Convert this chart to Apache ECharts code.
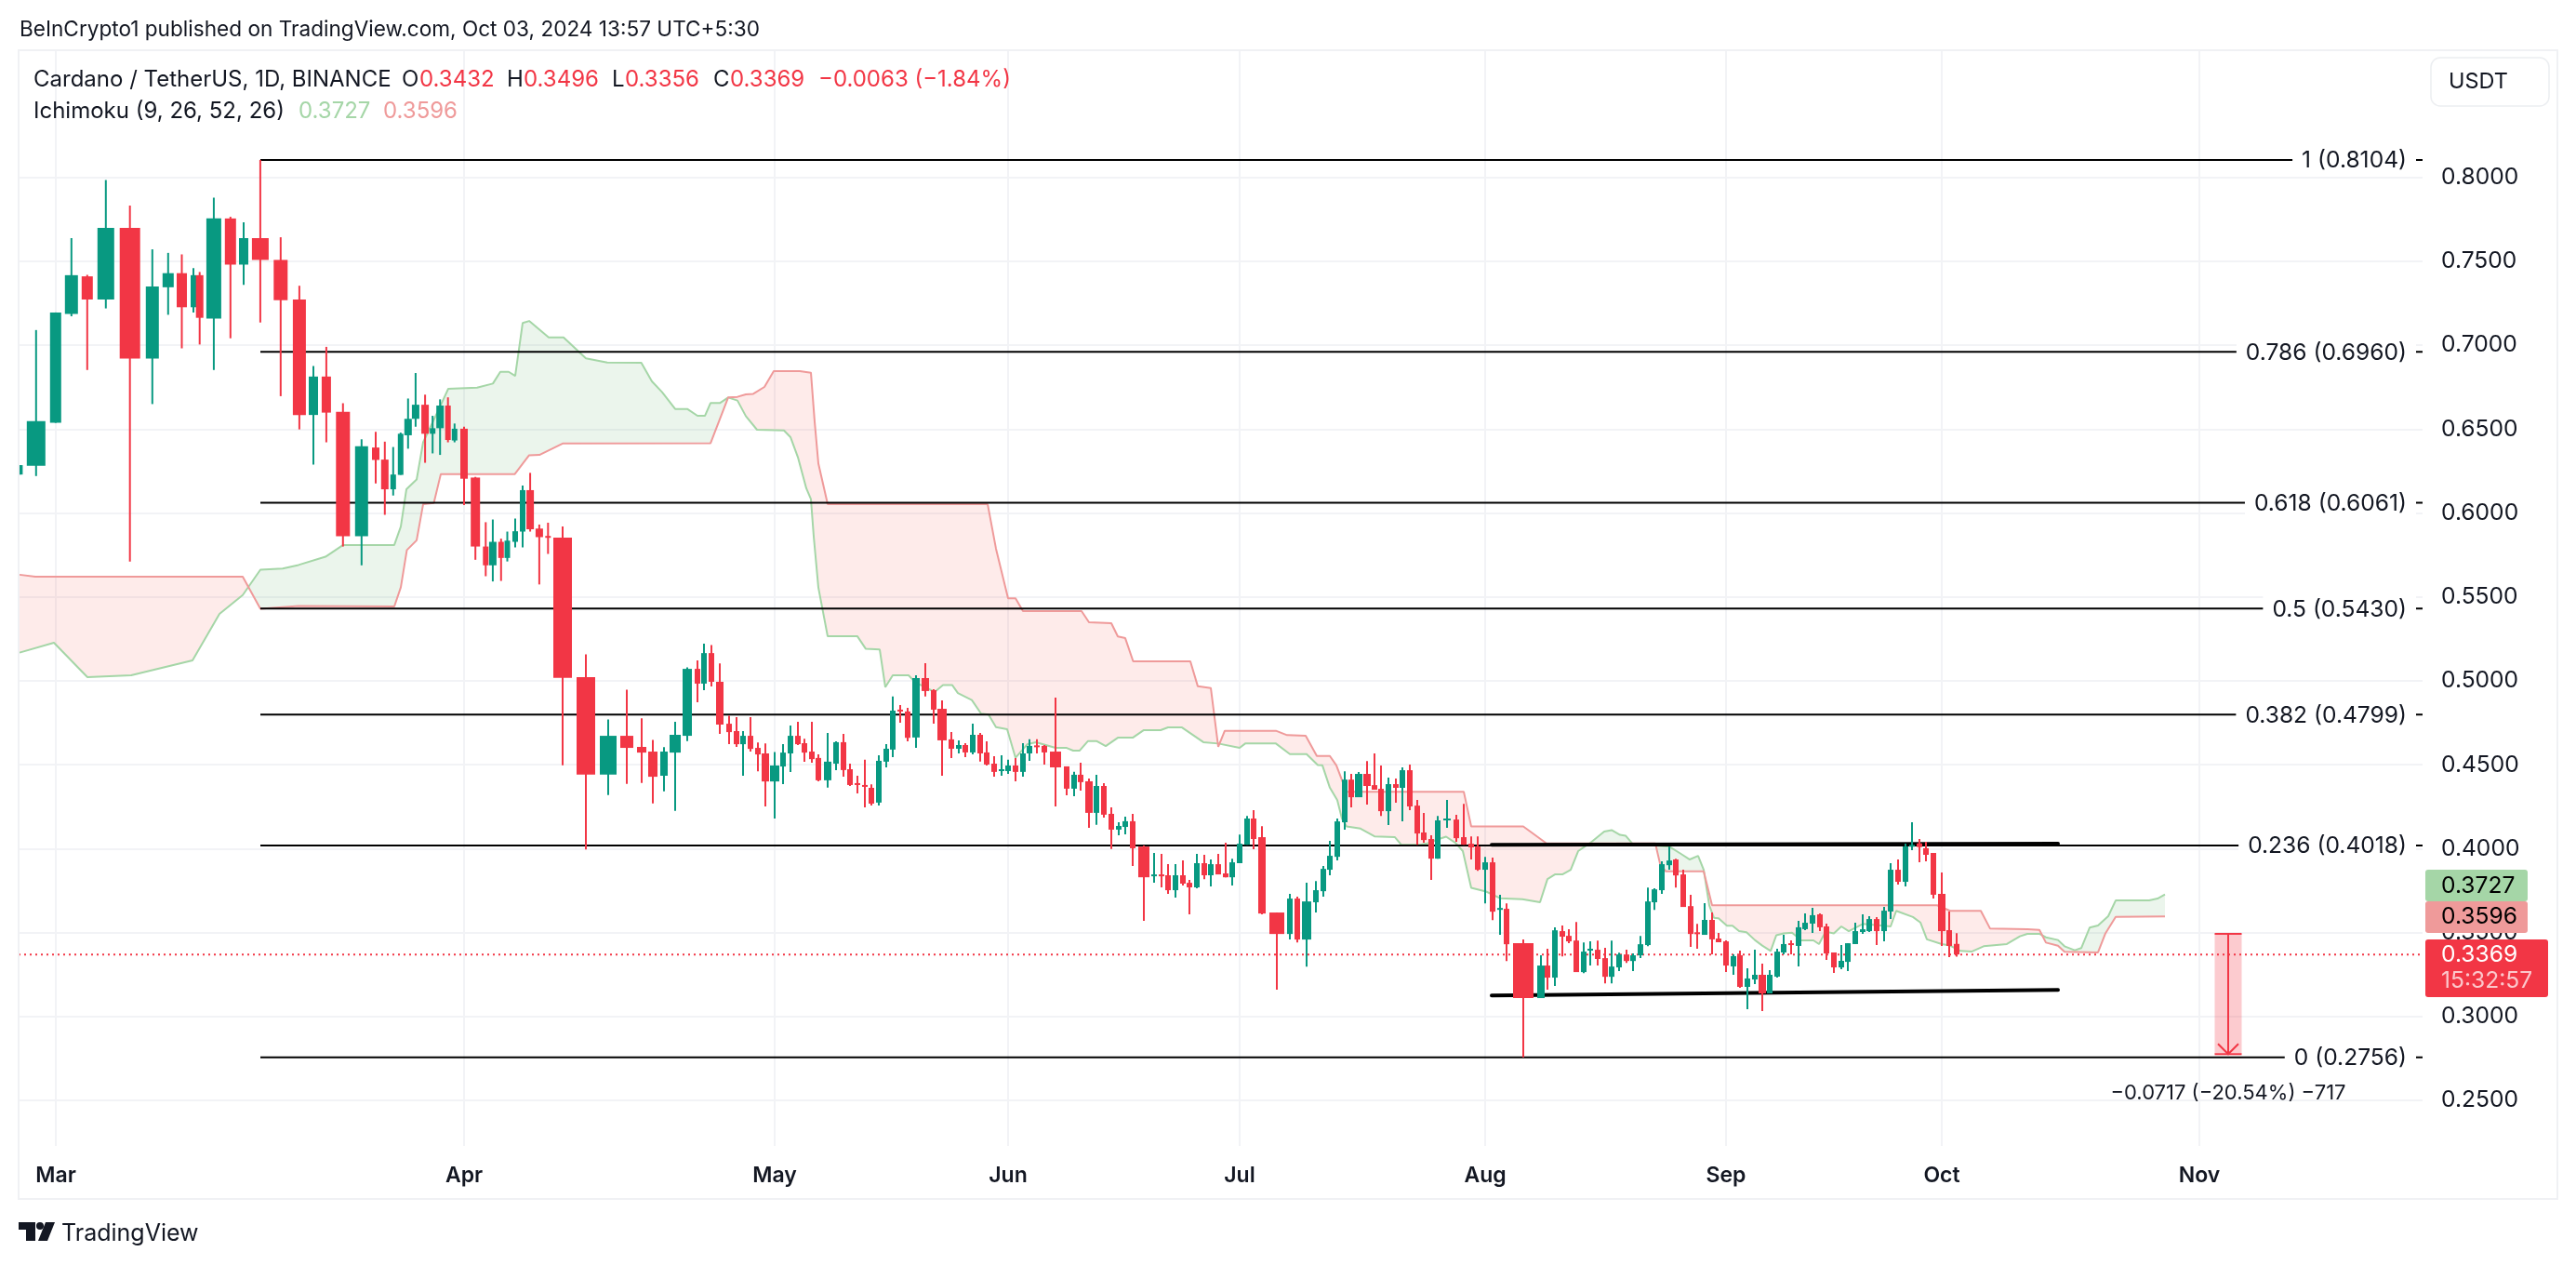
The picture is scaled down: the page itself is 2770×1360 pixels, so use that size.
<!DOCTYPE html>
<html><head><meta charset="utf-8">
<style>html,body{margin:0;padding:0;background:#fff}#c{width:2770px;height:1360px}</style>
<script src="https://cdn.jsdelivr.net/npm/echarts@6/dist/echarts.min.js"></script>
</head><body><div id="c"></div>
<script>
// Stretched time axis: the picture's days are not evenly spaced, so each candle has its place on it.
const candleX = [1.4,18.8,39.8,56.8,73.8,93.8,119.7,143.8,160.8,175.5,188,194.7,209.9,227.8,242,259.9,281.8,301.9,317,330.9,348.8,368.8,384,393.8,402.8,410.8,418.8,426.9,437.1,445.2,453.2,461.7,468.8,479,491.2,502.3,509.9,518.8,525.5,534,542,550.1,559.9,569.3,
585,610,634,654,670,682,694,706,719,730,737,745,754,764,772,779,787,795,803,813,822,830,838,845,853,
860,870,879,887,894,902,910,917,925,933,940,948,956,965,975,984,993,1003,1011,1018,1026,1034,1041,1049,1057,1064,1072,1080,1087,1095,1103,1115,1127,1135,1142,1151,1159,1167,1175,1183,1190,1198,
1210,1221,1229,1236,1244,1252,1259,1267,1275,1282,1290,1298,1305,1313,1321,1328,1337,1353,1367,1375,1385,1395,1403,1410,1418,1426,1433,1441,1450,1458,1465,1473,1481,1488,1496,1504,1511,1519,1526,1536,
1546,1554,1562,1569,1577,1585,1593,1600,1618,1637,1644,1652,1660,1667,1675,1683,1690,1698,1706,1713,1721,1729,1736,1744,1752,1759,1767,1775,1782,1790,1798,
1805,1813,1821,1828,1836,1844,1851,1859,1867,1875,1883,1891,1898,1906,1914,1921,1929,1937,1944,1952,1960,1967,1975,1983,1990,1998,2006,2013,2021,2029,2036,2044,2051,2059,2068,2076,2084];
const opens = [.6229,.6281,.6537,.7186,.7410,.7272,.7699,.6920,.7345,.7429,.7226,.7417,.7158,.7755,.7480,.7638,.7508,.7272,.6584,.6813,.6603,.5861,.6390,.6318,.6141,.6227,.6463,.6561,.6645,.6472,.6505,.6640,.6432,.6502,.6211,.5800,.5688,.5828,.5732,.5828,.5889,.6136,.5907,.5863,
.5853,.5021,.4441,.4672,.4606,.4578,.4434,.4572,.4672,.5071,.4983,.5165,.4994,.4744,.4700,.4622,.4672,.4600,.4567,.4400,.4489,.4567,.4672,.4628,.4578,
.4540,.4407,.4506,.4634,.4473,.4390,.4379,.4362,.4274,.4518,.4590,.4828,.4817,.4662,.5016,.4944,.4833,.4651,.4595,.4617,.4573,.4678,.4573,.4506,.4466,.4462,.4495,.4457,.4567,.4615,.4612,.4578,.4490,.4357,.4440,.4401,.4213,.4373,.4207,.4113,.4129,.4163,
.4012,.3837,.3846,.3841,.3752,.3841,.3796,.3769,.3913,.3841,.3907,.3852,.3829,.3913,.4023,.4179,.4068,.3619,.3491,.3702,.3458,.3680,.3746,.3874,.3951,.4157,.4411,.4306,.4445,.4378,.4356,.4223,.4384,.4362,.4467,.4256,.4096,.4057,.3940,.4171,
.4173,.4068,.4029,.4012,.3874,.3918,.3639,.3641,.3436,.3109,.3303,.3231,.3508,.3480,.3452,.3264,.3395,.3397,.3347,.3236,.3292,.3369,.3330,.3364,.3425,.3680,.3752,.3901,.3935,.3846,.3657,
.3501,.3486,.3575,.3464,.3447,.3298,.3364,.3176,.3220,.3248,.3137,.3237,.3381,.3436,.3420,.3520,.3553,.3608,.3536,.3381,.3292,.3325,.3431,.3503,.3508,.3580,.3508,.3625,.3874,.3802,.4013,.4031,.4002,.3974,.3730,.3514,.3432];
const closes = [.6285,.6547,.7195,.7417,.7272,.7699,.6920,.7349,.7429,.7226,.7417,.7163,.7755,.7480,.7638,.7508,.7268,.6584,.6813,.6598,.5861,.6397,.6316,.6141,.6229,.6472,.6561,.6645,.6472,.6505,.6640,.6435,.6502,.6204,.5800,.5688,.5828,.5732,.5835,.5891,.6136,.5903,.5856,.5856,
.5018,.4441,.4672,.4600,.4572,.4428,.4578,.4678,.5071,.4983,.5165,.4994,.4739,.4694,.4622,.4672,.4594,.4561,.4400,.4495,.4572,.4672,.4622,.4572,.4533,
.4407,.4518,.4634,.4468,.4379,.4383,.4372,.4268,.4523,.4595,.4822,.4817,.4660,.5016,.4939,.4828,.4645,.4595,.4617,.4573,.4678,.4567,.4501,.4457,.4473,.4495,.4457,.4567,.4612,.4608,.4573,.4484,.4357,.4440,.4396,.4213,.4373,.4202,.4113,.4135,.4163,.4002,
.3829,.3846,.3837,.3752,.3841,.3791,.3769,.3913,.3841,.3907,.3846,.3829,.3918,.4029,.4179,.4057,.3613,.3491,.3702,.3458,.3685,.3752,.3879,.3957,.4162,.4411,.4306,.4445,.4373,.4351,.4223,.4384,.4362,.4467,.4251,.4090,.4051,.3940,.4168,.4179,
.4062,.4023,.4007,.3874,.3918,.3624,.3646,.3430,.3109,.3303,.3231,.3513,.3475,.3447,.3264,.3386,.3403,.3342,.3236,.3297,.3369,.3330,.3364,.3430,.3685,.3757,.3907,.3929,.3840,.3652,.3491,
.3494,.3575,.3459,.3442,.3303,.3359,.3176,.3226,.3248,.3137,.3248,.3386,.3431,.3429,.3531,.3558,.3603,.3531,.3375,.3292,.3331,.3436,.3508,.3519,.3580,.3508,.3630,.3874,.3802,.4013,.4022,.4009,.3963,.3725,.3508,.3420,.3369];
const highs = [.6285,.7090,.7195,.7638,.7419,.7984,.7832,.7571,.7550,.7541,.7459,.7436,.7879,.7765,.7732,.8104,.7643,.7354,.6876,.6990,.6654,.6439,.6484,.6425,.6393,.6479,.6682,.6834,.6705,.6579,.6677,.6689,.6533,.6514,.6215,.5945,.5961,.5847,.5889,.5966,.6164,.6239,.5931,.5942,
.5919,.5158,.4770,.4947,.4776,.4648,.4604,.4755,.5080,.5121,.5221,.5213,.5103,.4792,.4783,.4700,.4783,.4632,.4626,.4576,.4622,.4733,.4755,.4655,.4755,
.4562,.4689,.4639,.4684,.4506,.4434,.4529,.4383,.4556,.4623,.4906,.4856,.4839,.5033,.5105,.4950,.4883,.4695,.4645,.4628,.4745,.4689,.4639,.4551,.4556,.4529,.4540,.4628,.4651,.4651,.4617,.4900,.4490,.4457,.4512,.4418,.4440,.4390,.4246,.4157,.4190,.4207,
.4019,.3974,.3968,.3907,.3907,.3929,.3813,.3968,.3963,.3935,.3968,.4035,.3940,.4084,.4195,.4229,.4134,.3619,.3730,.3713,.3796,.3807,.3896,.4046,.4179,.4461,.4445,.4456,.4522,.4567,.4495,.4423,.4417,.4484,.4500,.4290,.4212,.4079,.4195,.4290,
.4201,.4267,.4073,.4073,.3951,.3946,.3724,.3674,.3458,.3364,.3403,.3530,.3541,.3519,.3563,.3441,.3447,.3452,.3408,.3452,.3380,.3397,.3375,.3480,.3768,.3763,.3924,.4012,.3940,.3874,.3724,
.3551,.3675,.3619,.3497,.3453,.3370,.3392,.3287,.3398,.3314,.3276,.3403,.3486,.3453,.3569,.3614,.3647,.3614,.3553,.3381,.3425,.3436,.3558,.3608,.3597,.3592,.3653,.3913,.3935,.4029,.4157,.4057,.4041,.3974,.3858,.3625,.3496];
const lows = [.6229,.6220,.6537,.7172,.6852,.7219,.5711,.6649,.7181,.6981,.7195,.7004,.6852,.7041,.7359,.7135,.6696,.6498,.6288,.6421,.5800,.5688,.6176,.5989,.6104,.6227,.6383,.6514,.6299,.6355,.6346,.6421,.6421,.6047,.5721,.5623,.5592,.5595,.5711,.5795,.5795,.5889,.5574,.5756,
.4497,.3995,.4319,.4386,.4391,.4269,.4341,.4225,.4641,.4872,.4944,.4966,.4683,.4622,.4606,.4434,.4578,.4461,.4251,.4179,.4384,.4456,.4617,.4517,.4511,
.4401,.4364,.4468,.4429,.4373,.4329,.4246,.4257,.4257,.4484,.4545,.4750,.4639,.4601,.4906,.4745,.4434,.4540,.4567,.4545,.4562,.4518,.4495,.4429,.4434,.4445,.4401,.4429,.4523,.4567,.4501,.4251,.4318,.4312,.4346,.4124,.4141,.4185,.3997,.4080,.4085,.3897,
.3569,.3796,.3769,.3730,.3708,.3780,.3608,.3763,.3818,.3774,.3846,.3829,.3780,.3913,.4023,.3996,.3608,.3159,.3458,.3441,.3297,.3619,.3713,.3841,.3929,.4112,.4245,.4306,.4262,.4351,.4195,.4140,.4273,.4162,.4229,.4023,.4035,.3813,.3940,.4123,
.4040,.4023,.3935,.3868,.3674,.3574,.3486,.3330,.2756,.3109,.3159,.3181,.3358,.3436,.3264,.3258,.3303,.3303,.3197,.3197,.3270,.3319,.3270,.3347,.3419,.3635,.3730,.3874,.3768,.3652,.3414,
.3403,.3486,.3370,.3442,.3265,.3248,.3170,.3043,.3192,.3032,.3137,.3231,.3370,.3370,.3298,.3514,.3497,.3508,.3337,.3259,.3281,.3270,.3431,.3492,.3503,.3425,.3447,.3580,.3786,.3774,.3991,.3919,.3924,.3702,.3420,.3353,.3356];
// Leading spans of the Ichimoku cloud: [place on the stretched axis, price] at each bend of the line.
const spanA = [[1,.5168],[38,.5227],[74,.5022],[121,.5033],[187,.5121],[216,.5399],[241,.5511],[260,.5662],[284,.5669],[301,.5690],[330,.5739],[349,.5809],[404,.5809],[411,.5919],[417,.6141],[428,.6199],[435,.6421],[453,.6631],[462,.6740],[493,.6747],[510,.6771],[518,.6841],[527,.6841],[534,.6817],[542,.7132],[549,.7144],[570,.7046],[586,.7046],[610,.6922],[633,.6897],[669.6,.6895],[681,.6784],[692,.6720],[706,.6620],[719,.6620],[730,.6579],[738,.6579],[744,.6655],[754,.6655],[763,.6688],[773,.6670],[782,.6577],[794,.6496],[823,.6492],[830,.6452],[838,.6332],[847,.6147],[852,.6082],[855,.5860],[860,.5556],[870,.5265],[902,.5265],[911,.5190],[926,.5186],[932,.4962],[940,.5033],[957,.5033],[964,.4992],[985,.4933],[994,.4974],[1004,.4974],[1010,.4927],[1025,.4885],[1035,.4804],[1043,.4798],[1051,.4724],[1063,.4711],[1072,.4541],[1085,.4623],[1094,.4634],[1115,.4600],[1127,.4600],[1134,.4584],[1141,.4584],[1150,.4641],[1159,.4641],[1169,.4611],[1182,.4661],[1198,.4661],[1210,.4706],[1228,.4706],[1236,.4722],[1251,.4722],[1274,.4634],[1290,.4626],[1313,.4600],[1319,.4626],[1352,.4626],[1367,.4563],[1385,.4563],[1397,.4498],[1402,.4496],[1410,.4363],[1418,.4289],[1423,.4179],[1428,.4132],[1443,.4119],[1458,.4073],[1480,.4068],[1487,.4022],[1507,.4022],[1515,.4031],[1525,.4053],[1535,.4071],[1545,.4034],[1553,.3985],[1562,.3766],[1578,.3744],[1593,.3704],[1617,.3698],[1636,.3680],[1644,.3818],[1652,.3846],[1660,.3846],[1669,.3874],[1677,.3985],[1690,.4034],[1705,.4101],[1713,.4110],[1722,.4082],[1728,.4077],[1735,.4031],[1775,.4012],[1788,.3967],[1797,.3935],[1806,.3957],[1812,.3874],[1818,.3662],[1823,.3588],[1828,.3584],[1837,.3540],[1843,.3540],[1850,.3508],[1858,.3501],[1867,.3455],[1875,.3422],[1884,.3390],[1890,.3483],[1898,.3495],[1907,.3499],[1917,.3453],[1930,.3453],[1936,.3431],[1943,.3505],[1952,.3495],[1960,.3536],[1968,.3508],[1983,.3551],[2013,.3536],[2019,.3629],[2037,.3592],[2045,.3560],[2052,.3459],[2068,.3431],[2077,.3422],[2088,.3390],[2100,.3386],[2113,.3418],[2138,.3431],[2152,.3477],[2160,.3492],[2173,.3492],[2180,.3471],[2193,.3455],[2200,.3418],[2211,.3394],[2218,.3407],[2227,.3529],[2236,.3542],[2247,.3597],[2255,.3691],[2291,.3691],[2300,.3702],[2308,.3727]];
const spanB = [[1,.5632],[18,.5620],[241,.5620],[260,.5429],[301,.5445],[404,.5443],[411,.5557],[417.5,.5779],[428,.5837],[435,.6052],[446.5,.6059],[454,.6232],[533.6,.6232],[549,.6344],[560,.6346],[585,.6414],[744,.6415],[763,.6688],[773,.6692],[782,.6707],[790,.6710],[802,.6751],[812,.6845],[840,.6845],[852,.6836],[856,.6544],[860,.6295],[870,.6053],[1042,.6053],[1051,.5787],[1064,.5491],[1072,.5491],[1080,.5415],[1143,.5415],[1151,.5349],[1175,.5343],[1182,.5264],[1190,.5254],[1198.5,.5116],[1260,.5116],[1268,.4967],[1282,.4957],[1290,.4607],[1297,.4702],[1352,.4702],[1364,.4676],[1384,.4672],[1396,.4552],[1410,.4552],[1417,.4496],[1423,.4409],[1428,.4339],[1554,.4339],[1562,.4132],[1618,.4132],[1643,.4031],[1760,.4031],[1765,.3911],[1771,.3865],[1812,.3865],[1821,.3662],[2063,.3662],[2077,.3629],[2110,.3629],[2120,.3523],[2160,.3519],[2173,.3515],[2180,.3440],[2193,.3421],[2200,.3385],[2236,.3381],[2244,.3495],[2255,.3593],[2308,.3596]];
const fibLevels = ['1','0.786','0.618','0.5','0.382','0.236','0'];
const fibPrices = [.8104,.6960,.6061,.5430,.4799,.4018,.2756];
const monthNames = ['Mar','Apr','May','Jun','Jul','Aug','Sep','Oct','Nov'];
const monthTicks = [40,479,813,1064,1313,1577,1836,2068,2345];
const priceTicks = [.25,.30,.35,.40,.45,.50,.55,.60,.65,.70,.75,.80];
const trendUpper = [[1584,.4022],[2193,.4030]];
const trendLower = [[1584,.3125],[2193,.3158]];
const lastPrice = .3369;
const measureFrom = .3492, measureTo = .2775;
const measureLabel = '\u22120.0717 (\u221220.54%) \u2212717';

// Drawing layout (not data)
const AXIS_MAX = 2585, FIB_START = 260, MEASURE_X = 2376;
const UP = '#089981', DOWN = '#F23645', INK = '#131722', GRID = '#F2F3F6';
const FONT = 'Inter, "Noto Sans", sans-serif';
const bodySpan = candleX.map(() => 6);
const firstBodies = [6,20,12,14,12,18,22,14,12,11,6,8,16,12,10,18,15,14,10,10,15,14,8,8,6,6,8,8,8,6,8,6,6,8,10,6,8,6,6,6,6,8,8,6,
 20,20,18,14,10,10,8,12,10,6,6,6,8,6,6,6,6,6,8,10,6,6,6,6,6];
firstBodies.forEach((w, i) => bodySpan[i] = w);
[[71,8],[83,8],[84,8],[86,10],[101,12],[105,8],[112,12],[128,8],[129,16],[132,10],[139,8],[140,8],[151,8],[160,22],[161,8],[192,8],[217,8]]
  .forEach(([n, w]) => bodySpan[n - 1] = w);

const candleRows = candleX.map((x, i) => [x, opens[i], closes[i], lows[i], highs[i], bodySpan[i]]);

function candleItem(params, api) {
  const x = api.value(0), o = api.value(1), c = api.value(2), l = api.value(3), h = api.value(4);
  const w = api.size([api.value(5), 0])[0];
  const color = c >= o ? UP : DOWN;
  const pO = api.coord([x, o]), pC = api.coord([x, c]), pL = api.coord([x, l]), pH = api.coord([x, h]);
  const top = Math.min(pO[1], pC[1]), bh = Math.max(Math.abs(pO[1] - pC[1]), 2);
  return { type: 'group', children: [
    { type: 'rect', shape: { x: pH[0] - 1, y: pH[1], width: 2, height: pL[1] - pH[1] }, style: { fill: color } },
    { type: 'rect', shape: { x: pH[0] - w / 2, y: top, width: w, height: bh }, style: { fill: color } }
  ]};
}

function at(poly, x) {
  for (let i = 1; i < poly.length; i++) {
    if (x <= poly[i][0]) {
      const t = (x - poly[i - 1][0]) / (poly[i][0] - poly[i - 1][0]);
      return poly[i - 1][1] + t * (poly[i][1] - poly[i - 1][1]);
    }
  }
  return poly[poly.length - 1][1];
}
function cloudItem(params, api) {
  const xs = Array.from(new Set(spanA.concat(spanB).map(p => p[0]))).sort((a, b) => a - b);
  const children = [];
  let upper = [], lower = [], sign = 0;
  const flush = () => {
    if (upper.length > 1) children.push({ type: 'polygon',
      shape: { points: upper.concat(lower.slice().reverse()) },
      style: { fill: sign > 0 ? 'rgba(67,160,71,0.105)' : 'rgba(244,67,54,0.105)' } });
    upper = []; lower = [];
  };
  xs.forEach((x, i) => {
    const a = at(spanA, x), b = at(spanB, x), s = a >= b ? 1 : -1;
    if (sign && s !== sign) {
      const px = xs[i - 1], pa = at(spanA, px), pb = at(spanB, px);
      const t = (pb - pa) / ((a - pa) - (b - pb));
      const cx = px + t * (x - px), cv = pa + t * (a - pa), q = api.coord([cx, cv]);
      upper.push(q); lower.push(q); flush();
      upper.push(q); lower.push(q);
    }
    sign = s;
    upper.push(api.coord([x, a])); lower.push(api.coord([x, b]));
  });
  flush();
  return { type: 'group', children };
}
function fibItem(params, api) {
  const i = params.dataIndex, p = api.value(1);
  const a = api.coord([FIB_START, p]), b = api.coord([AXIS_MAX, p]);
  return { type: 'group', children: [
    { type: 'line', shape: { x1: a[0], y1: a[1], x2: b[0], y2: b[1] }, style: { stroke: '#000', lineWidth: 2 } },
    { type: 'text', z2: 5, style: { text: fibLevels[i] + ' (' + p.toFixed(4) + ')', x: b[0] - 7, y: b[1] + 1, align: 'right', verticalAlign: 'middle',
      font: '24.6px ' + FONT, fill: INK, backgroundColor: '#fff', padding: [2, 10] } }
  ]};
}
function measureItem(params, api) {
  const t = api.coord([MEASURE_X, measureFrom]), m = api.coord([MEASURE_X, measureTo]);
  const cx = t[0], hw = 14.5;
  const red = '#F23645';
  return { type: 'group', children: [
    { type: 'rect', shape: { x: cx - hw, y: t[1], width: 2 * hw, height: m[1] - t[1] }, style: { fill: 'rgba(242,54,69,0.26)' } },
    { type: 'line', shape: { x1: cx - hw, y1: t[1], x2: cx + hw, y2: t[1] }, style: { stroke: red, lineWidth: 2 } },
    { type: 'line', shape: { x1: cx - hw, y1: m[1], x2: cx + hw, y2: m[1] }, style: { stroke: red, lineWidth: 2 } },
    { type: 'line', shape: { x1: cx, y1: t[1], x2: cx, y2: m[1] }, style: { stroke: red, lineWidth: 2 } },
    { type: 'polyline', shape: { points: [[cx - 11, m[1] - 11], [cx, m[1]], [cx + 11, m[1] - 11]] }, style: { stroke: red, lineWidth: 2, fill: 'none' } },
    { type: 'text', style: { text: measureLabel, x: cx, y: m[1] + 42, align: 'center', verticalAlign: 'middle', font: '22px ' + FONT, fill: INK } }
  ]};
}

const tag = (x, y, w, h, fill) => ({ type: 'rect', z: 100, shape: { x, y, width: w, height: h, r: 3 }, style: { fill } });
const txt = (x, y, text, font, fill, extra) => ({ type: 'text', z: 101, x, y, style: Object.assign({ text, font, fill, verticalAlign: 'middle' }, extra || {}) });
const F24 = '24px ' + FONT, F246 = '24.6px ' + FONT;

const option = {
  animation: false,
  backgroundColor: '#fff',
  textStyle: { fontFamily: FONT },
  grid: { left: 20, right: 165, top: 55, bottom: 128, containLabel: false },
  xAxis: { type: 'value', min: 0, max: AXIS_MAX,
    axisLine: { show: false },
    axisTick: { show: false, customValues: monthTicks },
    splitLine: { show: true, lineStyle: { color: GRID, width: 2 } },
    axisLabel: { customValues: monthTicks, margin: 21, fontSize: 23, fontWeight: 600, color: INK, fontFamily: FONT,
      formatter: v => monthNames[monthTicks.indexOf(v)] } },
  yAxis: { type: 'value', position: 'right', min: 0.2228, max: 0.8752,
    axisLine: { show: false },
    axisTick: { show: false, customValues: priceTicks },
    splitLine: { show: true, lineStyle: { color: GRID, width: 2 } },
    axisLabel: { customValues: priceTicks, margin: 20, fontSize: 24.6, color: INK, fontFamily: FONT, align: 'left', formatter: v => v.toFixed(4) } },
  graphic: { elements: [
    { type: 'rect', z: 50, shape: { x: 20, y: 54, width: 2730, height: 1235 }, style: { fill: 'none', stroke: '#F0F1F4', lineWidth: 2 } },
    txt(21, 32, 'BeInCrypto1 published on TradingView.com, Oct 03, 2024 13:57 UTC+5:30', '22.6px ' + FONT, INK),
    txt(36, 86, 'Cardano / TetherUS, 1D, BINANCE', F24, INK),
    txt(432, 86, 'O', F24, INK), txt(451, 86, '0.3432', F24, DOWN),
    txt(545, 86, 'H', F24, INK), txt(563, 86, '0.3496', F24, DOWN),
    txt(658, 86, 'L', F24, INK), txt(672, 86, '0.3356', F24, DOWN),
    txt(767, 86, 'C', F24, INK), txt(785, 86, '0.3369', F24, DOWN),
    txt(880, 86, '\u22120.0063 (\u22121.84%)', F24, DOWN),
    txt(36, 120, 'Ichimoku (9, 26, 52, 26)', F24, INK),
    txt(321, 120, '0.3727', F24, '#A5D6A7'),
    txt(412, 120, '0.3596', F24, '#EF9A9A'),
    { type: 'rect', z: 100, shape: { x: 2614, y: 62, width: 127, height: 52, r: 10 }, style: { fill: '#fff', stroke: '#ECEEF1', lineWidth: 1.5 } },
    txt(2633, 88, 'USDT', '23.5px ' + FONT, INK),
    tag(2608, 935, 110, 34, '#A5D6A7'), txt(2625, 953, '0.3727', F246, '#000'),
    tag(2608, 969, 110, 34, '#EF9A9A'), txt(2625, 986, '0.3596', F246, '#000'),
    tag(2608, 1010, 132, 62, DOWN),
    txt(2625, 1027, '0.3369', F246, '#fff'),
    txt(2625, 1055, '15:32:57', F246, 'rgba(255,255,255,0.72)'),
    { type: 'polygon', z: 100, shape: { points: [[20,1314],[38,1314],[38,1334],[28,1334],[28,1322],[20,1322]] }, style: { fill: INK } },
    { type: 'circle', z: 100, shape: { cx: 43, cy: 1318, r: 4 }, style: { fill: INK } },
    { type: 'polygon', z: 100, shape: { points: [[49,1314],[59,1314],[51,1334],[41,1334]] }, style: { fill: INK } },
    txt(66, 1326, 'TradingView', '25px ' + FONT, INK)
  ]},
  series: [
    { type: 'custom', z: 1, clip: true, silent: true, renderItem: cloudItem, data: [0], encode: { x: 0 } },
    { type: 'line', z: 2, data: spanA, showSymbol: false, silent: true, lineStyle: { color: '#A5D6A7', width: 2 } },
    { type: 'line', z: 2, data: spanB, showSymbol: false, silent: true, lineStyle: { color: '#EF9A9A', width: 2 } },
    { type: 'custom', z: 3, clip: false, silent: true, renderItem: fibItem,
      data: fibPrices.map((p, i) => [FIB_START, p]), encode: { x: 0, y: 1 } },
    { type: 'line', z: 3, data: trendUpper, showSymbol: false, silent: true, lineStyle: { color: '#000', width: 4, cap: 'round' } },
    { type: 'line', z: 3, data: trendLower, showSymbol: false, silent: true, lineStyle: { color: '#000', width: 4, cap: 'round' } },
    { type: 'line', z: 3, data: [[0, lastPrice], [AXIS_MAX, lastPrice]], showSymbol: false, silent: true,
      lineStyle: { color: DOWN, width: 2, type: [2, 4] } },
    { type: 'custom', z: 4, clip: true, silent: true, renderItem: candleItem, data: candleRows, encode: { x: 0, y: [1, 2, 3, 4] } },
    { type: 'custom', z: 5, clip: false, silent: true, renderItem: measureItem, data: [[MEASURE_X, measureFrom]], encode: { x: 0, y: 1 } }
  ]
};
echarts.init(document.getElementById('c')).setOption(option);
</script></body></html>
